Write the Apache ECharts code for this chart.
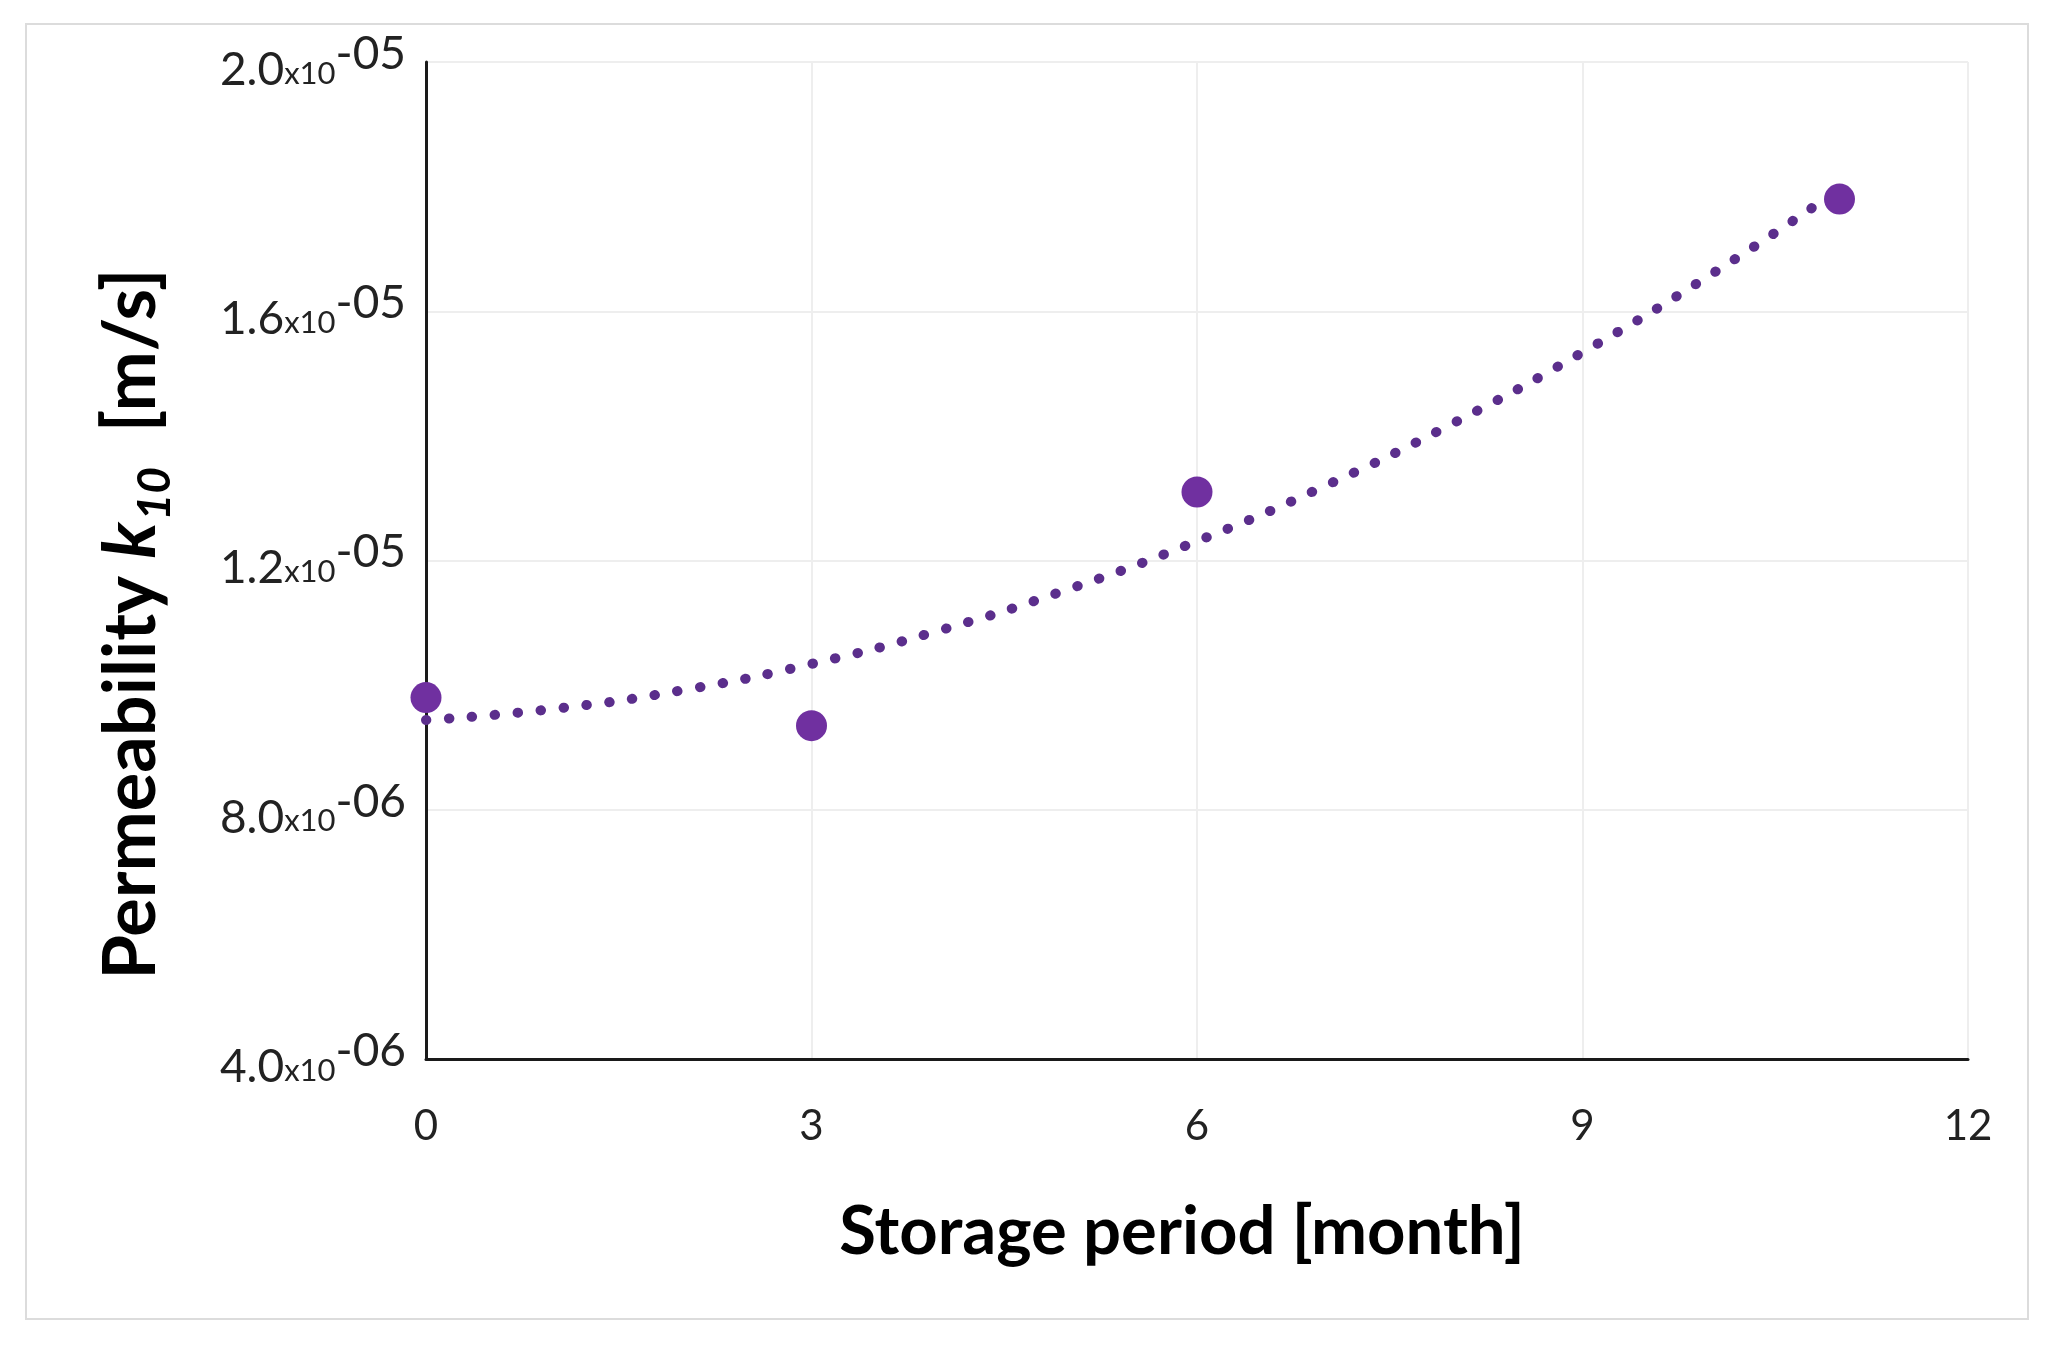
<!DOCTYPE html>
<html>
<head>
<meta charset="utf-8">
<style>
html,body{margin:0;padding:0;background:#fff;}
#chart{width:2048px;height:1347px;}
</style>
<script src="https://cdn.jsdelivr.net/npm/echarts@6/dist/echarts.min.js"></script>
</head>
<body>
<div id="chart"></div>
<script>
// Measured data (storage month, permeability k10 in m/s)
const months = [0, 3, 6, 11];
const permeability = [9.8e-6, 9.35e-6, 13.1e-6, 17.8e-6];
// Dotted trend curve
const trendMonths = [0, 1, 2, 3, 4, 5, 6, 7, 8, 9, 10, 11];
const trendValues = [9.44e-6, 9.62e-6, 9.92e-6, 10.34e-6, 10.88e-6, 11.54e-6, 12.31e-6, 13.2e-6, 14.21e-6, 15.34e-6, 16.59e-6, 17.96e-6];
const xTicks = [0, 3, 6, 9, 12];
const yTicks = [4e-6, 8e-6, 1.2e-5, 1.6e-5, 2e-5];

const FONT = 'Lato';
const chart = echarts.init(document.getElementById('chart'));

function sciLabel(v) {
  const e = Math.floor(Math.log10(v) + 1e-9);
  const m = v / Math.pow(10, e);
  const es = (e < 0 ? '-' : '+') + String(Math.abs(e)).padStart(2, '0');
  return '{a|' + m.toFixed(1) + '}{b|x10}{c|' + es + '}';
}

chart.setOption({
  backgroundColor: '#ffffff',
  animation: false,
  grid: { left: 426, right: 80, top: 62, bottom: 288 },
  xAxis: {
    type: 'value',
    min: xTicks[0], max: xTicks[xTicks.length - 1], interval: 3,
    axisLine: { show: true, onZero: false, lineStyle: { color: '#1a1a1a', width: 3 } },
    axisTick: { show: false },
    axisLabel: { margin: 46, fontFamily: FONT, fontSize: 42, color: '#222' },
    splitLine: { show: true, lineStyle: { color: '#eeeeee', width: 2 } },
    name: 'Storage period [month]',
    nameLocation: 'middle',
    nameGap: 140,
    nameTextStyle: { fontFamily: FONT, fontWeight: 'bold', fontSize: 67, color: '#000', padding: [0, 30, 0, 0] }
  },
  yAxis: {
    type: 'value',
    min: yTicks[0], max: yTicks[yTicks.length - 1], interval: 4e-6,
    axisLine: { show: true, onZero: false, lineStyle: { color: '#1a1a1a', width: 3 } },
    axisTick: { show: false },
    axisLabel: {
      margin: 20,
      formatter: sciLabel,
      rich: {
        a: { fontFamily: FONT, fontSize: 46, color: '#222', verticalAlign: 'bottom' },
        b: { fontFamily: FONT, fontSize: 31, color: '#222', verticalAlign: 'bottom', padding: [0, 0, 4, 0] },
        c: { fontFamily: FONT, fontSize: 46, color: '#222', verticalAlign: 'bottom', padding: [0, 0, 16, 0] }
      }
    },
    splitLine: { show: true, lineStyle: { color: '#eeeeee', width: 2 } }
  },
  graphic: [
    {
      type: 'rect', silent: true, z: -10,
      shape: { x: 26, y: 24, width: 2002, height: 1295 },
      style: { fill: 'none', stroke: '#dcdcdc', lineWidth: 2 }
    },
    {
      type: 'text', silent: true,
      x: 132, y: 624, rotation: Math.PI / 2,
      style: {
        text: '{t|Permeability }{k|k}{s|10}{t|  [m/s]}',
        align: 'center', verticalAlign: 'middle',
        rich: {
          t: { fontFamily: FONT, fontWeight: 'bold', fontSize: 72, fill: '#000', verticalAlign: 'bottom' },
          k: { fontFamily: FONT, fontWeight: 'bold', fontStyle: 'italic', fontSize: 72, fill: '#000', verticalAlign: 'bottom' },
          s: { fontFamily: FONT, fontWeight: 'bold', fontStyle: 'italic', fontSize: 46, fill: '#000', verticalAlign: 'bottom', padding: [0, 0, -10, 2] }
        }
      }
    }
  ],
  series: [
    {
      name: 'trend',
      type: 'line',
      smooth: true,
      showSymbol: false,
      data: trendMonths.map((m, i) => [m, trendValues[i]]),
      lineStyle: { color: '#5b2e8c', width: 10, type: [0.5, 22.5], cap: 'round' },
      z: 2
    },
    {
      name: 'k10',
      type: 'scatter',
      symbol: 'circle',
      symbolSize: 31,
      data: months.map((m, i) => [m, permeability[i]]),
      itemStyle: { color: '#7030a0', opacity: 1 },
      z: 3
    }
  ]
});
</script>
</body>
</html>
